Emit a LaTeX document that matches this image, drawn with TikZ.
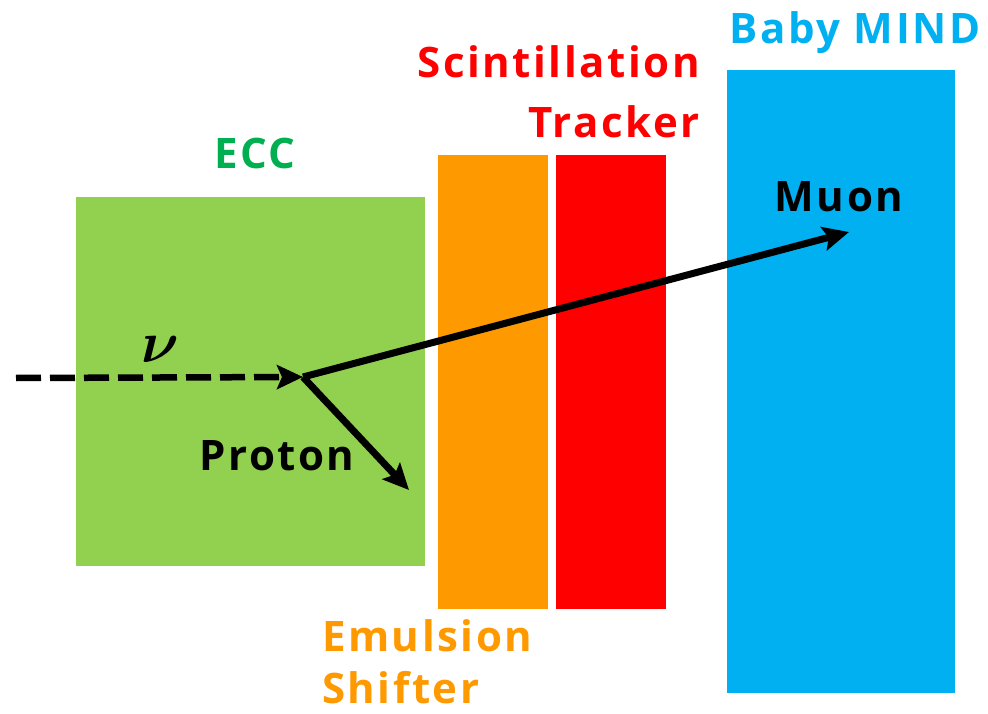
\documentclass[tikz,border=0pt]{standalone}
\usepackage{fontspec}
\setmainfont{Open Sans}[LetterSpace=6]
\usepackage{bm}
\usepackage{graphicx}
\usetikzlibrary{arrows.meta}
\definecolor{eccgreen}{HTML}{92D050}
\definecolor{ecctext}{HTML}{00B050}
\definecolor{shiftorange}{HTML}{FF9900}
\definecolor{trackred}{HTML}{FF0000}
\definecolor{mindblue}{HTML}{00B0F0}
\tikzset{
  block/.style={fill=#1, draw=none},
  lbl/.style={font=\fontsize{42}{56}\selectfont\bfseries, inner sep=0pt, anchor=base},
  track/.style={line width=7pt, -{Stealth[length=26pt,width=24pt,inset=5pt]}},
}
\begin{document}
\begin{tikzpicture}[x=1pt,y=-1pt]
\useasboundingbox (0,0) rectangle (988,714);
% blocks
\fill[block=eccgreen] (76,197) rectangle (425,566);
\fill[block=shiftorange] (438,155) rectangle (548,609);
\fill[block=trackred] (556,155) rectangle (666,609);
\fill[block=mindblue] (727,70) rectangle (955,693);
% labels
\node[lbl, text=ecctext] (ecc) at (255,169) {ECC};
\node[lbl, text=trackred, anchor=base east] (scint) at (700,78) {Scintillation};
\node[lbl, text=trackred, anchor=base east] (tracker) at (700,138) {Tracker};
\node[lbl, text=mindblue] (mind) at (855,44) {Baby MIND};
\node[lbl, text=black] (muonlbl) at (839,212) {Muon};
\node[lbl, text=black] (protonlbl) at (277,470) {Proton};
\node[lbl, text=shiftorange, anchor=base west] (emul) at (322,651) {Emulsion};
\node[lbl, text=shiftorange, anchor=base west] (shift) at (322,703) {Shifter};
\node[inner sep=0pt, anchor=base, font=\Huge] (nu) at (160,362) {\scalebox{2.35}{$\bm{\nu}$}};
% tracks
\coordinate (start) at (16,378);
\coordinate (vtx) at (303,377);
\coordinate (muend) at (849,232);
\coordinate (pend) at (409,490);
\draw[track, line width=6.5pt, dash pattern=on 25pt off 9pt] (start) -- (vtx);
\draw[track] (vtx) -- (muend);
\draw[track] (vtx) -- (pend);
\end{tikzpicture}
\end{document}
